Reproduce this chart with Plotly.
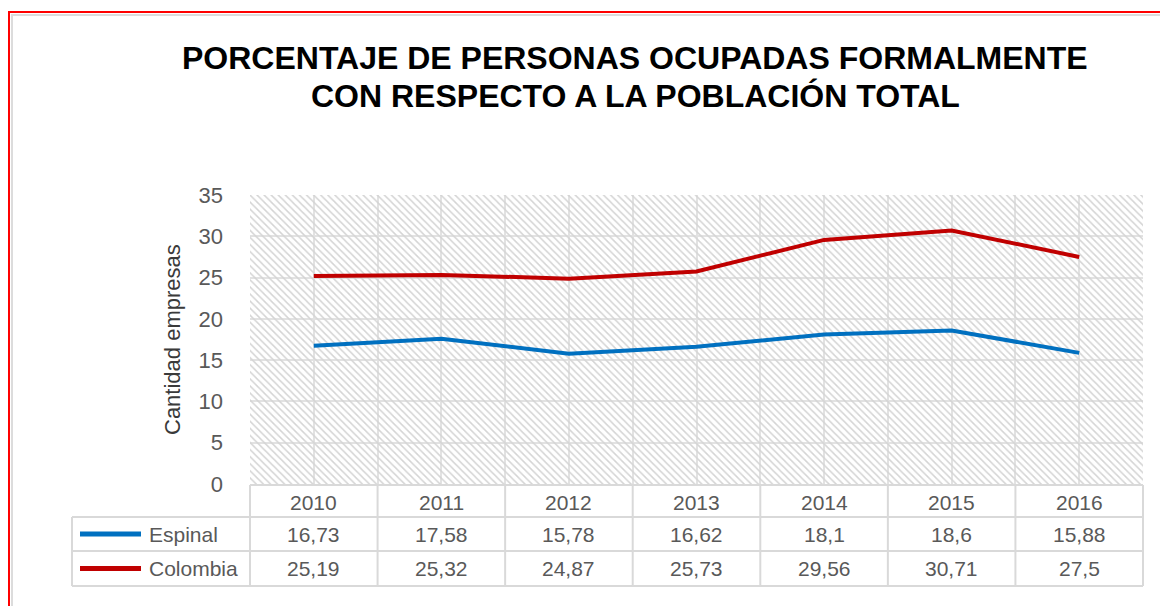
import plotly.graph_objects as go

years = [2010, 2011, 2012, 2013, 2014, 2015, 2016]
espinal = [16.73, 17.58, 15.78, 16.62, 18.1, 18.6, 15.88]
colombia = [25.19, 25.32, 24.87, 25.73, 29.56, 30.71, 27.5]
series_names = ["Espinal", "Colombia"]
series_colors = ["#0070C0", "#C00000"]
title_lines = ["PORCENTAJE DE PERSONAS OCUPADAS FORMALMENTE", "CON RESPECTO A LA POBLACIÓN TOTAL"]
y_title = "Cantidad empresas"
y_max = 35

OFF = 8  # page body margin
W, H = 1168 - OFF, 606 - OFF
L, R, T, B = 250, 1143, 195, 484  # plot area in page pixels

def px(x):
    return (x - L) / (R - L)

def py(y):
    return (B - y) / (B - T)

SANS = "Liberation Sans, Arial, sans-serif"
GRID = "#e2e2e2"
TXT = "#595959"

fig = go.Figure()

# hatched plot-area background (decorative)
fig.add_trace(go.Bar(
    x=[(years[0] + years[-1]) / 2], y=[y_max], width=[len(years)],
    marker=dict(color="rgba(0,0,0,0)", line=dict(width=0),
                pattern=dict(shape="\\", fgcolor="#d4d4d4", size=5, solidity=0.3, fillmode="replace")),
    showlegend=False, hoverinfo="skip",
))

for name, vals, col in zip(series_names, [espinal, colombia], series_colors):
    fig.add_trace(go.Scatter(
        x=years, y=vals, mode="lines", name=name,
        line=dict(color=col, width=4),
        showlegend=False,
    ))

shapes = []
annotations = []

# table geometry (page pixels)
row_y = [485, 517, 551, 586]
col_x = [L + i * (R - L) / len(years) for i in range(len(years) + 1)]
left_x = 72
lc = dict(color="#d9d9d9", width=2)

shapes.append(dict(type="line", xref="paper", yref="paper", x0=px(L), x1=px(R), y0=py(row_y[0]), y1=py(row_y[0]), line=lc))
for yy in row_y[1:]:
    shapes.append(dict(type="line", xref="paper", yref="paper", x0=px(left_x), x1=px(R), y0=py(yy), y1=py(yy), line=lc))
for xx in col_x:
    shapes.append(dict(type="line", xref="paper", yref="paper", x0=px(xx), x1=px(xx), y0=py(row_y[0]), y1=py(row_y[-1]), line=lc))
shapes.append(dict(type="line", xref="paper", yref="paper", x0=px(left_x), x1=px(left_x), y0=py(row_y[1]), y1=py(row_y[-1]), line=lc))

def fmt(v):
    return str(v).replace(".", ",")

TF = dict(family=SANS, size=21, color=TXT)
for yr in years:
    annotations.append(dict(x=yr, xref="x", y=py((row_y[0] + row_y[1]) / 2 + 1), yref="paper",
                            text=str(yr), showarrow=False, font=TF, xanchor="center", yanchor="middle"))
for r, (name, vals, col) in enumerate(zip(series_names, [espinal, colombia], series_colors)):
    yc = (row_y[r + 1] + row_y[r + 2]) / 2
    for yr, v in zip(years, vals):
        annotations.append(dict(x=yr, xref="x", y=py(yc), yref="paper", text=fmt(v), showarrow=False,
                                font=TF, xanchor="center", yanchor="middle"))
    shapes.append(dict(type="line", xref="paper", yref="paper", x0=px(80), x1=px(141), y0=py(yc), y1=py(yc),
                       line=dict(color=col, width=5)))
    annotations.append(dict(x=px(147), xref="paper", y=py(yc), yref="paper", text=name, showarrow=False,
                            font=TF, xanchor="left", yanchor="middle"))

# y axis title
annotations.append(dict(x=px(172), xref="paper", y=py(340), yref="paper", text=y_title, textangle=-90,
                        showarrow=False, font=dict(family=SANS, size=22, color="#3a3a3a"),
                        xanchor="center", yanchor="middle"))
# title
for i, t in enumerate(title_lines):
    annotations.append(dict(x=px(635), xref="paper", y=py(58 + i * 38), yref="paper", text="<b>" + t + "</b>",
                            showarrow=False, font=dict(family=SANS, size=32, color="#000000"),
                            xanchor="center", yanchor="middle"))

# frame with inner shadow
shapes.append(dict(type="rect", xref="paper", yref="paper", x0=px(12), x1=px(1200), y0=py(15), y1=py(640),
                   line=dict(color="#dcdcdc", width=2), layer="above"))
shapes.append(dict(type="rect", xref="paper", yref="paper", x0=px(9), x1=px(1200), y0=py(12), y1=py(640),
                   line=dict(color="#ff0000", width=2), layer="above"))

fig.update_layout(
    width=W, height=H,
    margin=dict(l=L - OFF, r=W - (R - OFF), t=T - OFF, b=H - (B - OFF), pad=0),
    paper_bgcolor="white", plot_bgcolor="white",
    shapes=shapes, annotations=annotations,
    xaxis=dict(range=[years[0] - 0.5, years[-1] + 0.5], tick0=years[0] - 0.5, dtick=0.5,
               showgrid=True, gridcolor=GRID, gridwidth=2, showticklabels=False, zeroline=False,
               showline=False, ticks=""),
    yaxis=dict(range=[0, y_max], dtick=5, showgrid=True, gridcolor=GRID, gridwidth=2, zeroline=False,
               showline=False, ticks="", ticklabelstandoff=26,
               tickfont=dict(family=SANS, size=22, color=TXT)),
    bargap=0,
)

fig.write_html("out.html")
